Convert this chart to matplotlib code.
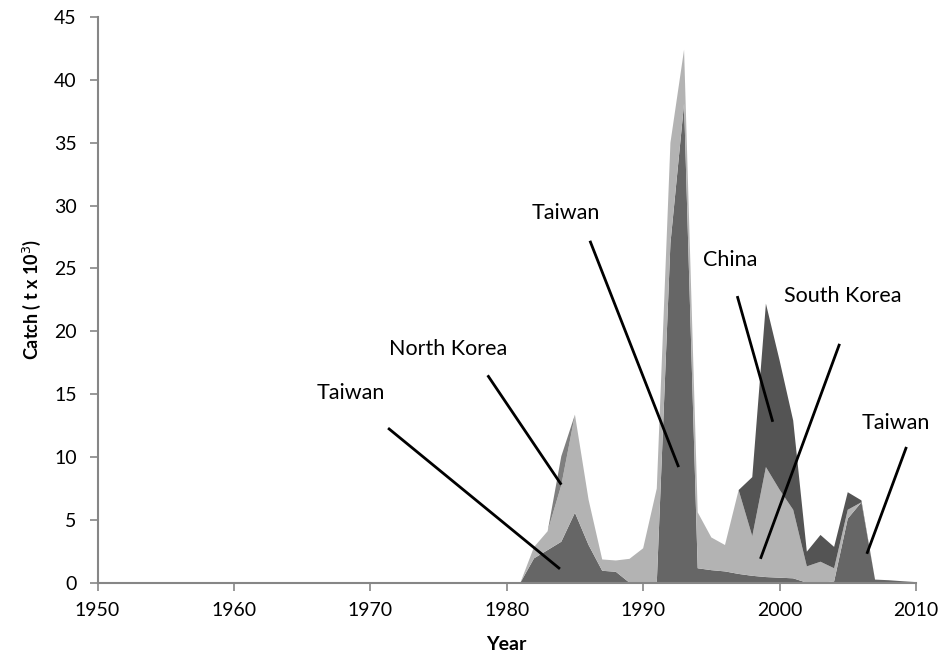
import numpy as np
import matplotlib
matplotlib.use('Agg')
import matplotlib.pyplot as plt

plt.rcParams['font.family'] = ['Lato', 'DejaVu Sans']

# catch by fleet, thousand tonnes, one value per year 1950-2010
years = np.arange(1950, 2011)
pre1981 = [0.0] * 31  # no catch reported 1950-1980

taiwan = pre1981 + [0.0, 1.94, 2.6, 3.26, 5.57, 3.0, 0.95, 0.87, 0.0, 0.0,
                    0.0, 27.0, 38.1, 1.15, 1.0, 0.9, 0.7, 0.55, 0.45, 0.4,
                    0.35, 0.0, 0.0, 0.1, 5.1, 6.4, 0.25, 0.2, 0.12, 0.05]
south_korea = pre1981 + [0.0, 0.9, 1.5, 4.5, 7.8, 3.6, 0.9, 0.9, 1.9, 2.74,
                         7.5, 8.0, 4.3, 4.45, 2.6, 2.1, 6.67, 3.15, 8.75, 7.0,
                         5.45, 1.3, 1.67, 1.05, 0.7, 0.0, 0.0, 0.0, 0.0, 0.0]
north_korea = pre1981 + [0.0, 0.0, 0.0, 2.3, 0.0, 0.0, 0.0, 0.0, 0.0, 0.0,
                         0.0, 0.0, 0.0, 0.0, 0.0, 0.0, 0.0, 0.0, 0.0, 0.0,
                         0.0, 0.0, 0.0, 0.0, 0.0, 0.0, 0.0, 0.0, 0.0, 0.0]
china = pre1981 + [0.0, 0.0, 0.0, 0.0, 0.0, 0.0, 0.0, 0.0, 0.0, 0.0,
                   0.0, 0.0, 0.0, 0.0, 0.0, 0.0, 0.0, 4.7, 13.0, 10.3,
                   7.1, 1.17, 2.13, 1.7, 1.4, 0.15, 0.0, 0.0, 0.0, 0.0]

colors = ['#666666', '#b3b3b3', '#7f7f7f', '#545454']

fig = plt.figure(figsize=(9.44, 6.58), dpi=100)
ax = fig.add_axes([0.1033, 0.1144, 0.8670, 0.8598])

ax.stackplot(years, taiwan, south_korea, north_korea, china,
             colors=colors, linewidth=0)

ax.set_xlim(1950, 2010)
ax.set_ylim(0, 45)
ax.set_xticks(np.arange(1950, 2011, 10))
ax.set_yticks(np.arange(0, 46, 5))

for s in ['top', 'right']:
    ax.spines[s].set_visible(False)
for s in ['left', 'bottom']:
    ax.spines[s].set_color('#868686')
    ax.spines[s].set_linewidth(1.5)
ax.tick_params(axis='both', colors='#868686', length=6, width=1.2,
               labelsize=14, labelcolor='black', direction='out')
ax.tick_params(axis='x', pad=8)
ax.tick_params(axis='y', pad=9)

ax.set_xlabel('Year', fontsize=14, fontweight='bold', labelpad=12)
ax.set_ylabel('Catch ( t x 10$^3$)', fontsize=13, fontweight='bold', labelpad=8)

# fleet labels with leader lines (data coords)
notes = [
    ('Taiwan', (1968.6, 15.1), (1971.3, 12.3), (1983.9, 1.1)),
    ('North Korea', (1975.7, 18.6), (1978.6, 16.5), (1984.0, 7.8)),
    ('Taiwan', (1984.3, 29.4), (1986.1, 27.2), (1992.6, 9.2)),
    ('China', (1996.4, 25.7), (1996.9, 22.8), (1999.5, 12.8)),
    ('South Korea', (2004.6, 22.8), (2004.4, 19.0), (1998.6, 1.9)),
    ('Taiwan', (2008.5, 12.7), (2009.3, 10.8), (2006.4, 2.3)),
]
for txt, tpos, p0, p1 in notes:
    ax.text(tpos[0], tpos[1], txt, fontsize=15.5, ha='center', va='center')
    ax.plot([p0[0], p1[0]], [p0[1], p1[1]], color='black', lw=2,
            solid_capstyle='butt', clip_on=False)

fig.savefig('out.png', dpi=100)
